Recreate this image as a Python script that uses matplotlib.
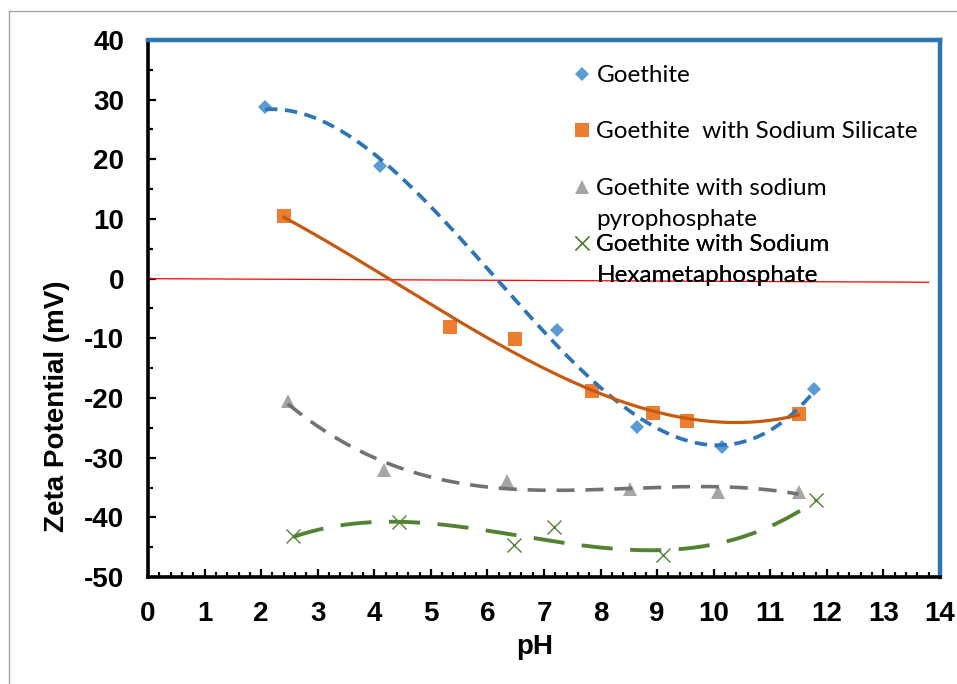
import numpy as np
import matplotlib
matplotlib.use("Agg")
import matplotlib.pyplot as plt
from matplotlib.lines import Line2D
from matplotlib.ticker import MultipleLocator

# ---- data ----
goe_ph = [2.07, 4.10, 7.23, 8.64, 10.14, 11.78]
goe_zeta = [28.8, 18.8, -8.6, -24.8, -28.2, -18.5]

sil_ph = [2.40, 5.34, 6.49, 7.85, 8.93, 9.52, 11.50]
sil_zeta = [10.5, -8.1, -10.1, -18.9, -22.5, -23.9, -22.6]

pyro_ph = [2.47, 4.17, 6.35, 8.52, 10.07, 11.50]
pyro_zeta = [-20.5, -32.0, -33.9, -35.2, -35.7, -35.7]

hexa_ph = [2.57, 4.44, 6.47, 7.17, 9.10, 11.80]
hexa_zeta = [-43.2, -40.8, -44.7, -41.6, -46.3, -37.1]

zero_ph = [0.0, 13.8]
zero_zeta = [0.0, -0.6]

labels = ["Goethite",
          "Goethite  with Sodium Silicate",
          "Goethite with sodium\npyrophosphate",
          "Goethite with Sodium\nHexametaphosphate"]

x_ticks = list(range(0, 15))
y_ticks = list(range(-50, 41, 10))

# ---- figure ----
plt.rcParams['font.family'] = ['Liberation Sans', 'DejaVu Sans']
plt.rcParams['axes.unicode_minus'] = False
fig = plt.figure(figsize=(9.57, 6.84), dpi=100)
W, H = 957, 684
ax = fig.add_axes([148 / W, 1 - 577 / H, 792 / W, 537 / H])

# outer chart border (gray)
fig.add_artist(Line2D([9 / W, 9 / W], [0, 1 - 11 / H], transform=fig.transFigure,
                      color='#A6A6A6', lw=1.0))
fig.add_artist(Line2D([9 / W, 1], [1 - 11 / H, 1 - 11 / H], transform=fig.transFigure,
                      color='#A6A6A6', lw=1.0))

series = [
    (goe_ph, goe_zeta, dict(marker='D', ms=7.3, color='#5B9BD5', mec='#5B9BD5', mew=0),
     dict(color='#2E75B6', lw=2.7, dashes=(3.3, 2.0))),
    (sil_ph, sil_zeta, dict(marker='s', ms=9.5, color='#ED7D31', mec='#ED7D31', mew=0),
     dict(color='#C55A11', lw=2.3, linestyle='-')),
    (pyro_ph, pyro_zeta, dict(marker='^', ms=10.5, color='#A5A5A5', mec='#A5A5A5', mew=0),
     dict(color='#767171', lw=2.6, dashes=(5.0, 3.0))),
    (hexa_ph, hexa_zeta, dict(marker='x', ms=9.5, color='#548235', mec='#548235', mew=1.0),
     dict(color='#548235', lw=2.8, dashes=(8.0, 4.5))),
]

handles = []
for (xs, ys, mk, ln), lab in zip(series, labels):
    xs = np.asarray(xs)
    ys = np.asarray(ys)
    h, = ax.plot(xs, ys, linestyle='none', label=lab, zorder=3, **mk)
    handles.append(h)
    coef = np.polyfit(xs, ys, 3)
    xx = np.linspace(xs.min(), xs.max(), 300)
    ax.plot(xx, np.polyval(coef, xx), zorder=4, **ln)

ax.plot(zero_ph, zero_zeta, color='#FF0000', lw=0.9, zorder=2)

ax.set_xlim(0, 14)
ax.set_ylim(-50, 40)
ax.set_xticks(x_ticks)
ax.set_yticks(y_ticks)
ax.xaxis.set_minor_locator(MultipleLocator(0.2))
ax.yaxis.set_minor_locator(MultipleLocator(5))
ax.tick_params(axis='both', which='major', direction='in', length=5.5, width=1.6,
               color='black', labelsize=20, pad=17)
ax.tick_params(axis='both', which='minor', direction='in', length=3.8, width=1.6,
               color='black')
for lab in ax.get_xticklabels() + ax.get_yticklabels():
    lab.set_fontweight('bold')

for s in ['top', 'right']:
    ax.spines[s].set_color('#2E75B6')
    ax.spines[s].set_linewidth(3.2)
for s in ['left', 'bottom']:
    ax.spines[s].set_color('black')
    ax.spines[s].set_linewidth(2.6)

ax.set_xlabel('pH', fontsize=20, fontweight='bold')
ax.set_ylabel('Zeta Potential (mV)', fontsize=20, fontweight='bold')
ax.xaxis.set_label_coords((535 - 148) / 792, (577 - 634) / 537)
ax.yaxis.set_label_coords((70 - 148) / 792, (577 - 406) / 537)

# legend: one entry per legend so the entries keep a fixed pitch
leg_tops = [65, 121, 178, 234]
lx = (575 - 148) / 792
for h, lab, ty in zip(handles, labels, leg_tops):
    leg = ax.legend([h], [lab], loc='upper left',
                    bbox_to_anchor=(lx, (577 - ty) / 537),
                    frameon=False, borderpad=0, borderaxespad=0,
                    handlelength=0.6, handletextpad=0.28, handleheight=0.9,
                    prop={'family': ['Lato', 'DejaVu Sans'], 'size': 17.5})
    for t in leg.get_texts():
        t.set_linespacing(1.6)
    for item in leg._legend_handle_box.get_children()[0].get_children():
        item.align = 'top'
    ax.add_artist(leg)

fig.savefig('out.png', dpi=100)
